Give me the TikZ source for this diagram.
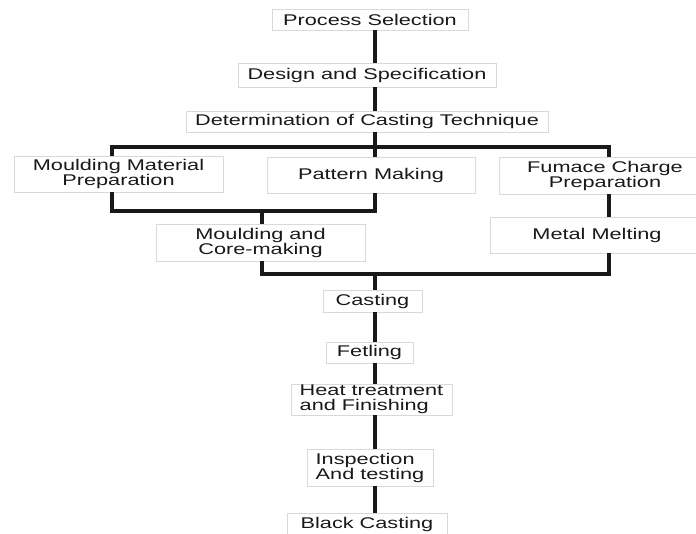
\documentclass[tikz,border=0pt]{standalone}
\usepackage{fontspec}
\setmainfont{Liberation Sans}[FakeStretch=1.4]
\usetikzlibrary{positioning,calc}

\begin{document}
\begin{tikzpicture}[
    x=1pt, y=-1pt,
    stage/.style={rectangle, draw=gray!30, line width=0.8pt, fill=white, inner sep=0pt, align=center, text=black!90, font=\fontsize{15.5}{15}\selectfont},
    link/.style={line width=3.4pt, line join=miter, black!90}
]
    \clip (0,0) rectangle (696,533);

    % Main column
    \node[stage, minimum width=196, minimum height=21] (ps) at (370,19.5) {Process Selection};
    \node[stage, minimum width=258, minimum height=24] (ds) at (367,75) {Design and Specification};
    \node[stage, minimum width=362, minimum height=21] (dct) at (367,121.5) {Determination of Casting Technique};

    % Parallel branches
    \node[stage, minimum width=209, minimum height=36] (mmp) at (118.5,174) {Moulding Material\\Preparation};
    \node[stage, minimum width=208, minimum height=36] (pm) at (371,175) {Pattern Making};
    \node[stage, minimum width=212, minimum height=37] (fcp) at (605,175.5) {Fumace Charge\\Preparation};
    \node[stage, minimum width=209, minimum height=37] (mcm) at (260.5,242.5) {Moulding and\\Core-making};
    \node[stage, minimum width=214, minimum height=36] (mm) at (597,235) {Metal Melting};

    % Finishing column
    \node[stage, minimum width=99, minimum height=22] (cast) at (372.5,301) {Casting};
    \node[stage, minimum width=87, minimum height=21] (fet) at (369.5,352.5) {Fetling};
    \node[stage, align=left, minimum width=161, minimum height=31] (heat) at (371.5,399.5) {Heat treatment\\and Finishing};
    \node[stage, align=left, minimum width=126, minimum height=37] (insp) at (370,467.5) {Inspection\\And testing};
    \node[stage, minimum width=160, minimum height=22] (blk) at (367,524) {Black Casting};

    % Line positions
    \coordinate (trunk) at (375,0);
    \coordinate (lcol) at (112,0);
    \coordinate (rcol) at (609,0);
    \coordinate (split) at (375,147);
    \coordinate (join1) at (262,211);
    \coordinate (join2) at (375,274);

    % Edges
    \draw[link] (ps.south -| trunk) -- (ds.north -| trunk);
    \draw[link] (ds.south -| trunk) -- (dct.north -| trunk);
    \draw[link] (dct.south -| trunk) -- (pm.north -| trunk);
    \draw[link] (mmp.north -| lcol) |- (split) -| (fcp.north -| rcol);
    \draw[link] (mmp.south -| lcol) |- (join1) -| (pm.south -| trunk);
    \draw[link] (join1) -- (mcm.north -| join1);
    \draw[link] (fcp.south -| rcol) -- (mm.north -| rcol);
    \draw[link] (mcm.south -| join1) |- (join2) -| (mm.south -| rcol);
    \draw[link] (join2) -- (cast.north -| trunk);
    \draw[link] (cast.south -| trunk) -- (fet.north -| trunk);
    \draw[link] (fet.south -| trunk) -- (heat.north -| trunk);
    \draw[link] (heat.south -| trunk) -- (insp.north -| trunk);
    \draw[link] (insp.south -| trunk) -- (blk.north -| trunk);
\end{tikzpicture}
\end{document}
